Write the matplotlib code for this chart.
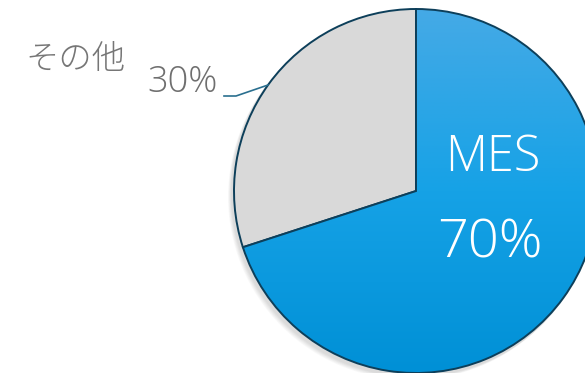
import numpy as np
import matplotlib.pyplot as plt
from matplotlib.colors import LinearSegmentedColormap

labels = ['MES', 'その他']
shares = [70, 30]
colors = ['#0a9fe4', '#d9d9d9']
edge = '#0d3f5a'

fig = plt.figure(figsize=(5.85, 3.73), dpi=100)
ax = fig.add_axes([0, 0, 1, 1])

cx, cy, r = 416, 182, 182

# soft shadow
for k in range(6):
    sh = plt.Circle((cx - 2 - k * 0.6, cy - 3 - k * 0.6), r + 1, color='k', alpha=0.025, lw=0)
    ax.add_patch(sh)

wedges, _ = ax.pie(shares, colors=colors, startangle=90, counterclock=False,
                   center=(cx, cy), radius=r, frame=True,
                   wedgeprops=dict(edgecolor=edge, linewidth=1.4))

# vertical gradient on the MES slice
cmap = LinearSegmentedColormap.from_list('g', ['#0090d6', '#16a2e6', '#45aae6'])
grad = np.linspace(0, 1, 256).reshape(-1, 1)
im = ax.imshow(grad, cmap=cmap, extent=(cx - r, cx + r, cy - r, cy + r),
               origin='lower', aspect='auto', zorder=wedges[0].get_zorder() + 0.1)
im.set_clip_path(wedges[0])
wedges[0].set_zorder(wedges[0].get_zorder() + 0.2)
wedges[0].set_facecolor('none')

ax.set_xlim(0, 585)
ax.set_ylim(0, 373)
ax.set_aspect('equal')
ax.axis('off')

ax.text(493, 215, labels[0], color='white', fontsize=35, family=['Open Sans', 'DejaVu Sans'],
        fontweight='light', ha='center', va='center')
ax.text(490, 129, f'{shares[0]}%', color='white', fontsize=39, family=['Open Sans', 'DejaVu Sans'],
        fontweight='light', ha='center', va='center')

ax.text(75, 313, labels[1], color='#767676', fontsize=24, family=['Noto Sans CJK JP', 'DejaVu Sans'],
        fontweight='light', ha='center', va='center')
ax.text(183, 291, f'{shares[1]}%', color='#6f6f6f', fontsize=26, family=['Open Sans', 'DejaVu Sans'],
        fontweight='light', ha='center', va='center')
ax.plot([224, 236, 268], [277, 277, 288], color='#2a6f8f', lw=1.2)

fig.savefig('out.png', dpi=100)
